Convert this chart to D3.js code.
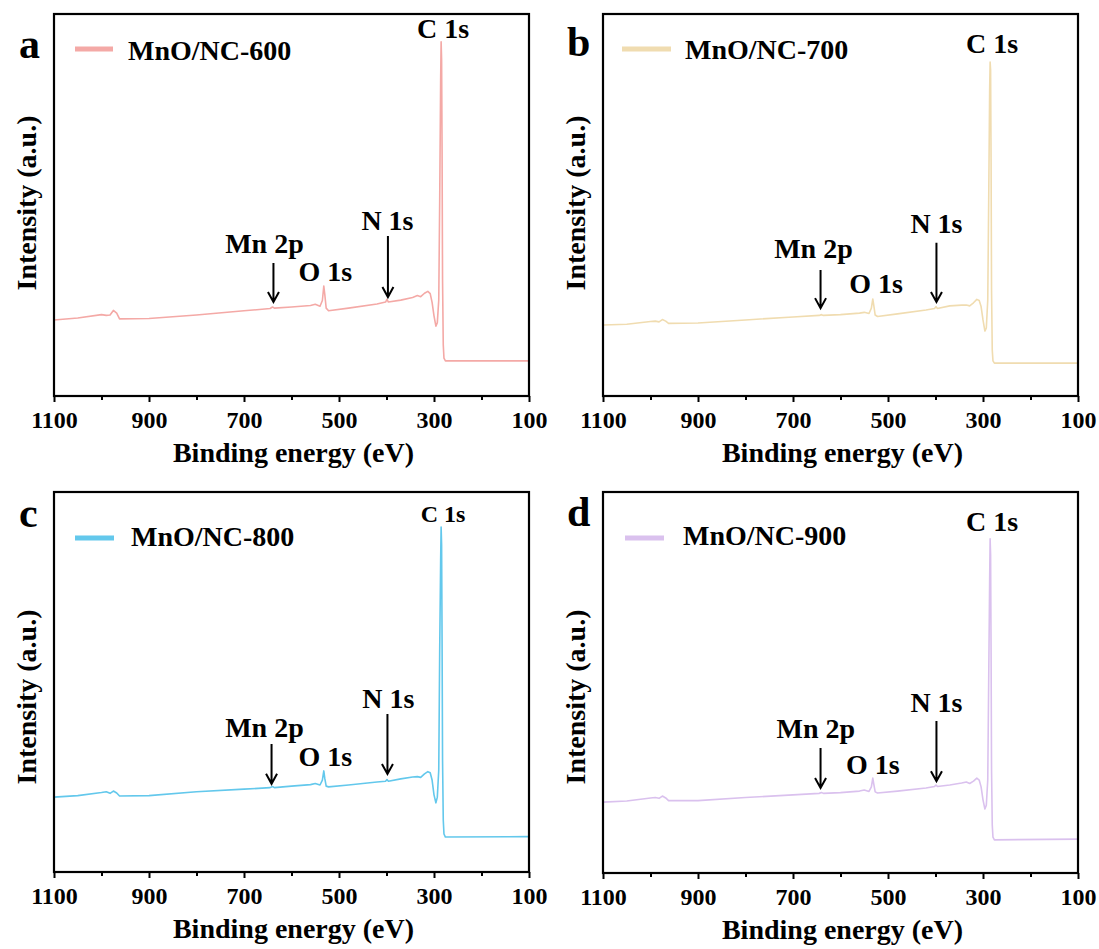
<!DOCTYPE html>
<html>
<head>
<meta charset="utf-8">
<script src="https://cdn.jsdelivr.net/npm/d3@7"></script>
<style>
  body { margin: 0; background: #fff; }
  svg text { font-family: "Liberation Serif", "Times New Roman", Times, "DejaVu Serif", serif; font-weight: bold; fill: #000; }
</style>
</head>
<body>
<div id="chart"></div>
<script>
// binding energies (eV) shared by all four survey spectra
var energy = [1100, 1050, 1000, 990, 982, 975, 968, 962, 900, 800, 700, 645, 640, 636, 600, 560, 550, 540,
  535, 532, 530, 527, 522, 480, 420, 402, 399, 396, 370, 345, 335, 328, 320, 313, 308, 304, 300, 296, 293,
  290, 288, 286, 285, 284, 283, 282, 280.5, 279, 276, 100];

// intensities (a.u.)
var mno600 = [19.9, 20.4, 21.3, 21.1, 21.2, 22.4, 21.7, 20.2, 20.3, 21.2, 22.3, 22.9, 23.3, 23.0, 23.3, 23.7, 24.0, 23.5,
  25.0, 28.8, 26.7, 23.0, 22.3, 23.0, 24.1, 24.6, 25.3, 24.6, 25.1, 25.8, 26.3, 26.0, 26.9, 27.4, 26.8, 24.5, 21.0, 18.3, 19.2,
  25.1, 51.3, 82.7, 92.7, 88.0, 64.4, 30.4, 13.4, 9.9, 9.2, 9.2];
var mno700 = [18.6, 18.8, 19.5, 19.6, 19.4, 20.0, 19.6, 19.0, 19.1, 19.9, 20.7, 21.1, 21.3, 21.1, 21.3, 21.7, 21.9, 21.6,
  23.0, 25.4, 23.8, 21.2, 20.8, 21.5, 22.5, 22.9, 23.4, 22.9, 23.6, 23.8, 23.8, 23.6, 24.4, 25.3, 25.0, 23.4, 19.9, 17.0, 17.8,
  25.1, 51.3, 80.1, 87.4, 85.3, 61.8, 27.7, 12.0, 9.2, 8.6, 8.6];
var mno800 = [19.7, 20.1, 20.9, 21.1, 20.7, 21.3, 20.8, 20.0, 20.1, 21.1, 21.8, 22.2, 22.5, 22.2, 22.6, 23.0, 23.3, 22.9,
  24.2, 26.6, 24.7, 22.6, 22.4, 22.9, 23.7, 23.9, 24.3, 23.9, 24.5, 25.0, 25.1, 24.9, 25.8, 26.4, 26.1, 24.2, 20.3, 18.2, 19.7,
  26.8, 58.4, 82.1, 90.8, 86.1, 61.1, 29.5, 13.7, 10.0, 9.2, 9.3];
var mno900 = [18.6, 18.9, 19.7, 19.8, 19.6, 20.2, 19.7, 19.0, 19.0, 19.8, 20.5, 20.9, 21.1, 20.9, 21.1, 21.5, 21.8, 21.4,
  22.6, 24.9, 23.4, 21.3, 21.0, 21.5, 22.3, 22.7, 23.1, 22.7, 23.1, 23.6, 23.9, 23.5, 24.1, 24.9, 24.4, 22.6, 19.2, 16.8, 17.8,
  24.4, 50.7, 76.9, 87.7, 83.5, 58.5, 27.0, 12.6, 9.4, 8.7, 8.9];

var sampleNames = ["MnO/NC-600", "MnO/NC-700", "MnO/NC-800", "MnO/NC-900"];
var panelLetters = ["a", "b", "c", "d"];
var majorTicks = [1100, 900, 700, 500, 300, 100];
var minorTicks = [1000, 800, 600, 400, 200];

// peak labels: [text, energy, intensity] per panel
var peakLabels = [
  [["C 1s", 281, 93.8], ["Mn 2p", 657, 37.4], ["O 1s", 529, 30.1], ["N 1s", 398, 43.5]],
  [["C 1s", 281, 89.8], ["Mn 2p", 657, 36.1], ["O 1s", 525, 27.0], ["N 1s", 398, 42.7]],
  [["C 1s", 281, 92.2], ["Mn 2p", 657, 35.5], ["O 1s", 529, 27.9], ["N 1s", 396, 43.2]],
  [["C 1s", 281, 89.8], ["Mn 2p", 652, 35.4], ["O 1s", 532, 26.0], ["N 1s", 398, 42.3]]
];
// arrows: [energy, top intensity, tip intensity]
var arrowsMn = [[638, 34.8, 24.6], [642, 33.0, 23.0], [642, 33.7, 23.2], [642, 32.8, 22.3]];
var arrowsN = [[397, 41.9, 25.9], [398, 40.1, 24.6], [398, 41.6, 25.8], [398, 39.9, 24.1]];

var colors = ["#f4a9a6", "#f0dcb0", "#63c8ec", "#dac1ee"];
var series = [mno600, mno700, mno800, mno900];
var serif = "'Liberation Serif', 'Times New Roman', Times, 'DejaVu Serif', serif";

// layout of the four boxes
var boxes = [
  { x0: 54, x1: 529, y0: 14, y1: 396, letter: [19, 58], leg: [75, 113, 49, 128, 60], ytitle: [36, 203], ctitle: 28 },
  { x0: 603, x1: 1078, y0: 14, y1: 396, letter: [567, 56], leg: [622, 671, 49, 685, 59], ytitle: [585, 203], ctitle: 28 },
  { x0: 54, x1: 529, y0: 492, y1: 872, letter: [19, 527], leg: [75, 114, 538, 131, 546], ytitle: [36, 697], ctitle: 24 },
  { x0: 603, x1: 1078, y0: 492, y1: 873, letter: [567, 526], leg: [625, 664, 538, 683, 545], ytitle: [585, 697], ctitle: 28 }
];

var width = 1099, height = 949;
var svg = d3.select("#chart").append("svg")
  .attr("width", width)
  .attr("height", height)
  .attr("font-family", serif);

svg.append("defs").selectAll("clipPath")
  .data(boxes).enter().append("clipPath")
  .attr("id", function (d, i) { return "clip" + i; })
  .append("rect")
  .attr("x", function (d) { return d.x0; })
  .attr("y", function (d) { return d.y0; })
  .attr("width", function (d) { return d.x1 - d.x0; })
  .attr("height", function (d) { return d.y1 - d.y0; });

boxes.forEach(function (b, i) {
  var x = d3.scaleLinear().domain([1100, 100]).range([b.x0, b.x1]);
  var y = d3.scaleLinear().domain([0, 100]).range([b.y1, b.y0]);
  var g = svg.append("g");

  var pts = energy.map(function (e, k) { return [e, series[i][k]]; });
  var line = d3.line()
    .x(function (d) { return x(d[0]); })
    .y(function (d) { return y(d[1]); });

  g.append("path")
    .datum(pts)
    .attr("clip-path", "url(#clip" + i + ")")
    .attr("d", line)
    .attr("fill", "none")
    .attr("stroke", colors[i])
    .attr("stroke-width", 1.6)
    .attr("stroke-linejoin", "round");

  // minor ticks
  g.append("g")
    .attr("transform", "translate(0," + b.y1 + ")")
    .call(d3.axisBottom(x).tickValues(minorTicks).tickSize(4).tickFormat(""))
    .call(function (a) { a.select(".domain").remove(); })
    .selectAll("line").attr("stroke", "#000").attr("stroke-width", 2);

  // major ticks + labels
  var ax = g.append("g")
    .attr("transform", "translate(0," + b.y1 + ")")
    .call(d3.axisBottom(x).tickValues(majorTicks).tickSize(6).tickFormat(d3.format("d")));
  ax.attr("font-family", null);
  ax.select(".domain").remove();
  ax.selectAll("line").attr("stroke", "#000").attr("stroke-width", 2);
  ax.selectAll("text")
    .attr("y", 32).attr("dy", 0)
    .style("font-family", serif)
    .style("font-weight", "bold")
    .style("font-size", "24px")
    .attr("fill", "#000");

  // frame
  g.append("rect")
    .attr("x", b.x0).attr("y", b.y0)
    .attr("width", b.x1 - b.x0).attr("height", b.y1 - b.y0)
    .attr("fill", "none").attr("stroke", "#000").attr("stroke-width", 2.2);

  g.append("text")
    .attr("x", (b.x0 + b.x1) / 2 + 2).attr("y", b.y1 + 66)
    .attr("text-anchor", "middle")
    .style("font-size", "28px")
    .text("Binding energy (eV)");

  g.append("text")
    .attr("transform", "translate(" + b.ytitle[0] + "," + b.ytitle[1] + ") rotate(-90)")
    .attr("text-anchor", "middle")
    .style("font-size", "28px")
    .text("Intensity (a.u.)");

  g.append("text")
    .attr("x", b.letter[0]).attr("y", b.letter[1])
    .style("font-size", "42px")
    .text(panelLetters[i]);

  // legend
  g.append("line")
    .attr("x1", b.leg[0]).attr("x2", b.leg[1])
    .attr("y1", b.leg[2]).attr("y2", b.leg[2])
    .attr("stroke", colors[i]).attr("stroke-width", 5);
  g.append("text")
    .attr("x", b.leg[3]).attr("y", b.leg[4])
    .style("font-size", "28px")
    .text(sampleNames[i]);

  // peak labels
  g.selectAll(".peak")
    .data(peakLabels[i]).enter().append("text")
    .attr("class", "peak")
    .attr("x", function (d) { return x(d[1]); })
    .attr("y", function (d) { return y(d[2]); })
    .attr("text-anchor", "middle")
    .style("font-size", function (d) { return d[0] === "C 1s" ? b.ctitle + "px" : "28px"; })
    .text(function (d) { return d[0]; });

  // arrows
  g.selectAll(".arrow")
    .data([arrowsMn[i], arrowsN[i]]).enter().append("path")
    .attr("class", "arrow")
    .attr("d", function (d) {
      var ax0 = x(d[0]), top = y(d[1]), tip = y(d[2]);
      return "M" + ax0 + "," + top + "V" + tip +
        "M" + (ax0 - 5.5) + "," + (tip - 10) + "L" + ax0 + "," + tip + "L" + (ax0 + 5.5) + "," + (tip - 10);
    })
    .attr("fill", "none")
    .attr("stroke", "#000")
    .attr("stroke-width", 2);
});
</script>
</body>
</html>
